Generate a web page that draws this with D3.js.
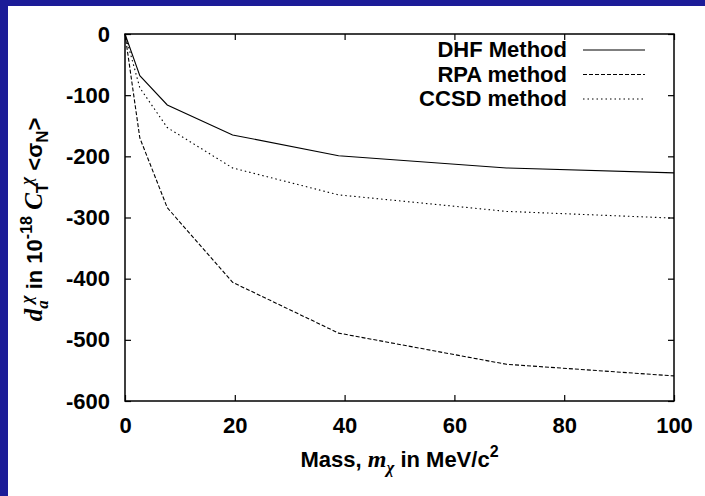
<!DOCTYPE html>
<html>
<head>
<meta charset="utf-8">
<script src="https://cdn.jsdelivr.net/npm/d3@7"></script>
<style>
  html, body { margin: 0; padding: 0; background: #1c1c98; }
  #chart { position: absolute; left: 0; top: 0; }
  text { font-family: "Liberation Sans", Arial, sans-serif; font-weight: bold; fill: #000; }
  .math { font-family: "Liberation Serif", "Times New Roman", serif; font-style: italic; font-weight: bold; }
</style>
</head>
<body>
<div id="chart"></div>
<script>
// masses in MeV/c^2
const masses = [0, 2.7, 7.7, 19.6, 38.9, 69.5, 100]
const dhfValues = [0, -68, -116, -165, -199, -219, -227]
const rpaValues = [0, -170, -284, -406, -489, -540, -559]
const ccsdValues = [0, -88, -153, -219, -263, -290, -301]
const seriesNames = ['DHF Method', 'RPA method', 'CCSD method']
const xTicks = [0, 20, 40, 60, 80, 100]
const yTicks = [0, -100, -200, -300, -400, -500, -600]

const widthD3 = 705
const heightD3 = 496
const plotLeft = 125, plotRight = 674, plotTop = 34, plotBottom = 401

const svg = d3.select('#chart').append('svg')
    .attr('width', widthD3)
    .attr('height', heightD3)

// blue frame around white page
svg.append('rect')
    .attr('x', 0).attr('y', 0)
    .attr('width', widthD3).attr('height', heightD3)
    .attr('fill', '#1c1c98')
svg.append('rect')
    .attr('x', 8).attr('y', 6)
    .attr('width', widthD3 - 8).attr('height', heightD3 - 6)
    .attr('fill', '#fff')

const xScale = d3.scaleLinear().domain([0, 100]).range([plotLeft, plotRight])
const yScale = d3.scaleLinear().domain([-600, 0]).range([plotBottom, plotTop])

// plain hyphen for negatives, like the original
const fmt = (d) => String(d)

const styleAxis = (g) => {
    g.select('.domain').remove()
    g.selectAll('line').attr('stroke', '#000').attr('stroke-width', 1.2)
    g.selectAll('text').attr('font-size', 22).attr('fill', '#000')
}

svg.append('g')
    .attr('transform', `translate(0, ${plotBottom})`)
    .call(d3.axisBottom(xScale).tickValues(xTicks).tickFormat(fmt).tickSize(-6).tickPadding(16))
    .call(styleAxis)

svg.append('g')
    .attr('transform', `translate(0, ${plotTop})`)
    .call(d3.axisTop(xScale).tickValues(xTicks).tickSize(-6).tickFormat(''))
    .call(styleAxis)

svg.append('g')
    .attr('transform', `translate(${plotLeft}, 0)`)
    .call(d3.axisLeft(yScale).tickValues(yTicks).tickFormat(fmt).tickSize(-6).tickPadding(15))
    .call(styleAxis)

svg.append('g')
    .attr('transform', `translate(${plotRight}, 0)`)
    .call(d3.axisRight(yScale).tickValues(yTicks).tickSize(-6).tickFormat(''))
    .call(styleAxis)

svg.append('rect')
    .attr('x', plotLeft).attr('y', plotTop)
    .attr('width', plotRight - plotLeft).attr('height', plotBottom - plotTop)
    .attr('fill', 'none')
    .attr('stroke', '#000')
    .attr('stroke-width', 1.5)

const series = [
    { name: seriesNames[0], values: dhfValues, dash: null },
    { name: seriesNames[1], values: rpaValues, dash: '4,2' },
    { name: seriesNames[2], values: ccsdValues, dash: '1.5,3' }
]

const line = d3.line()
    .x((d) => xScale(d[0]))
    .y((d) => yScale(d[1]))

series.forEach((s) => {
    svg.append('path')
        .datum(masses.map((m, i) => [m, s.values[i]]))
        .attr('d', line)
        .attr('fill', 'none')
        .attr('stroke', '#000')
        .attr('stroke-width', 1.1)
        .attr('stroke-dasharray', s.dash)
})

// legend
series.forEach((s, i) => {
    const y = 57 + i * 24.5
    svg.append('text')
        .text(s.name)
        .attr('x', 567)
        .attr('y', y)
        .attr('text-anchor', 'end')
        .attr('font-size', 22)
    svg.append('line')
        .attr('x1', 583).attr('x2', 645)
        .attr('y1', y - 7).attr('y2', y - 7)
        .attr('stroke', '#000')
        .attr('stroke-width', 1.1)
        .attr('stroke-dasharray', s.dash)
})

// x axis title
const xt = svg.append('text')
    .attr('x', (plotLeft + plotRight) / 2)
    .attr('y', 467)
    .attr('text-anchor', 'middle')
    .attr('font-size', 22)
xt.append('tspan').text('Mass, ')
xt.append('tspan').attr('class', 'math').attr('font-size', 24).text('m')
xt.append('tspan').attr('class', 'math').attr('font-size', 17).attr('dy', 6).text('χ')
xt.append('tspan').attr('dy', -6).text(' in MeV/c')
xt.append('tspan').attr('font-size', 16).attr('dy', -10).text('2')

// y axis title
const yt = svg.append('text')
    .attr('transform', `translate(42, ${(plotTop + plotBottom) / 2 + 2}) rotate(-90)`)
    .attr('text-anchor', 'middle')
    .attr('font-size', 22)
yt.append('tspan').attr('class', 'math').attr('font-size', 25).text('d')
yt.append('tspan').attr('class', 'math').attr('font-size', 17).attr('dy', 6).text('a')
yt.append('tspan').attr('class', 'math').attr('font-size', 17).attr('dx', -3).attr('dy', -16).text('χ')
yt.append('tspan').attr('dy', 10).text(' in 10')
yt.append('tspan').attr('font-size', 16).attr('dy', -10).text('-18')
yt.append('tspan').attr('class', 'math').attr('font-size', 25).attr('dy', 10).text(' C')
yt.append('tspan').attr('font-size', 17).attr('dy', 6).text('T')
yt.append('tspan').attr('class', 'math').attr('font-size', 17).attr('dx', -2).attr('dy', -16).text('χ')
yt.append('tspan').attr('dy', 10).text(' <σ')
yt.append('tspan').attr('font-size', 17).attr('dy', 6).text('N')
yt.append('tspan').attr('dy', -6).text('>')
</script>
</body>
</html>
